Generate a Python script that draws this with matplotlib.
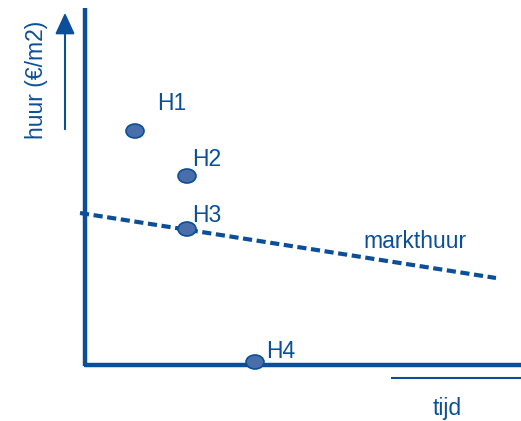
import matplotlib.pyplot as plt
from matplotlib.patches import Ellipse

# schematic: coordinates in chart units (0..521 wide, 0..421 tall, y downwards)
labels = ['H1', 'H2', 'H3', 'H4']
px = [135, 187, 187, 255]
py = [131, 176, 229, 362]
label_x = [157, 192, 192, 266]
label_y = [104, 160, 215, 351]
markt_x = [80, 496]
markt_y = [213, 278]

blue = '#0B4F98'
fill = '#4A6EA9'
plt.rcParams['font.family'] = ['Liberation Sans', 'DejaVu Sans']
fs = 16.5

fig = plt.figure(figsize=(5.21, 4.21), dpi=100)
ax = fig.add_axes([0, 0, 1, 1])
ax.set_xlim(0, 521)
ax.set_ylim(421, 0)
ax.axis('off')

# axes lines
ax.plot([85, 85], [8, 366], color=blue, lw=3.2, solid_capstyle='butt')
ax.plot([84, 521], [365, 365], color=blue, lw=3.2, solid_capstyle='butt')

# y arrow
ax.annotate('', xy=(65, 10), xytext=(65, 132),
            arrowprops=dict(arrowstyle='-|>,head_length=1.3,head_width=0.6',
                            color=blue, lw=1.5))
ax.text(37, 80, 'huur (€/m2)', rotation=90, color=blue, fontsize=fs,
        ha='center', va='center')

# x label
ax.plot([392, 521], [378, 378], color=blue, lw=1.5)
ax.text(447, 409, 'tijd', color=blue, fontsize=fs, ha='center', va='center')

# markthuur line
ax.plot(markt_x, markt_y, color=blue, lw=3, dashes=(2.2, 1.1))
ax.text(415, 242, 'markthuur', color=blue, fontsize=fs, ha='center', va='center')

for lab, x, y, lx, ly in zip(labels, px, py, label_x, label_y):
    ax.add_patch(Ellipse((x, y), 18, 14, facecolor=fill, edgecolor=blue,
                         lw=1.2, zorder=3))
    ax.text(lx, ly, lab, color=blue, fontsize=fs, ha='left', va='center')

fig.savefig('out.png', dpi=100)
